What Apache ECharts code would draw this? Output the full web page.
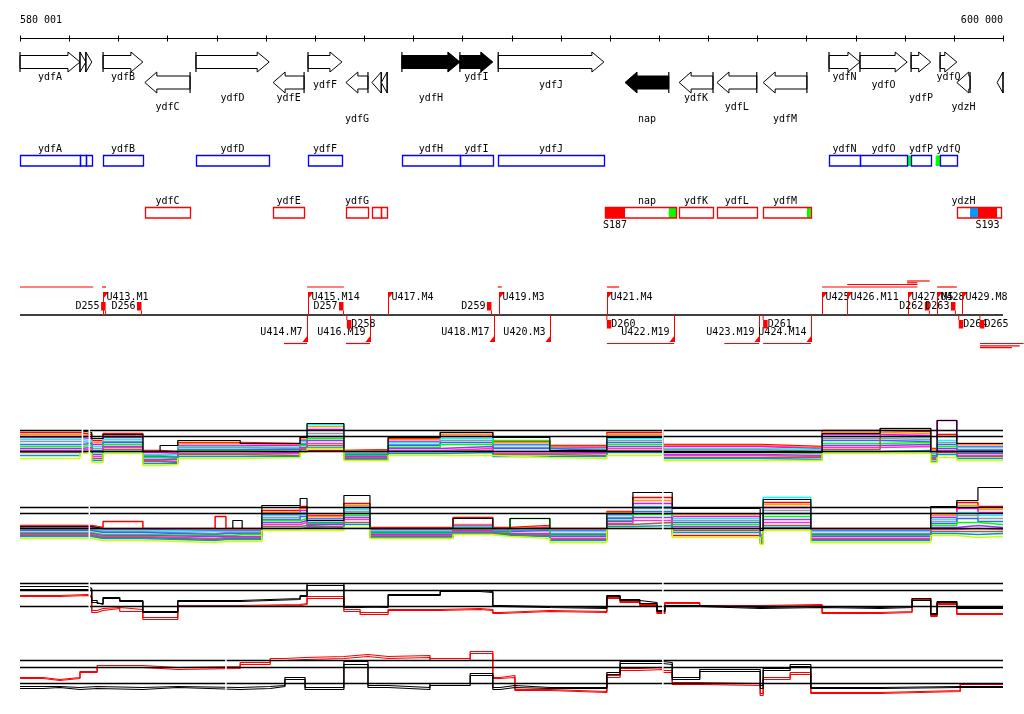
<!DOCTYPE html>
<html><head><meta charset="utf-8">
<script src="https://cdn.jsdelivr.net/npm/echarts@6/dist/echarts.min.js"></script>
<style>html,body{margin:0;padding:0;background:#fff}#c{width:1024px;height:714px}</style>
</head><body><div id="c"></div>
<script>
// ================= DATA (genome coordinates in kb) =================
const axisMinKb = 580, axisMaxKb = 600;
const rulerTicks = [580,581,582,583,584,585,586,587,588,589,590,591,592,593,594,595,596,597,598,599,600];
const rulerLabels = ['580 001', '600 000'];

// genes (arrows)
const geneNames  = ['ydfA','','','ydfB','ydfC','ydfD','ydfE','ydfF','ydfG','','','ydfH','ydfI','ydfJ','nap','ydfK','ydfL','ydfM','ydfN','ydfO','ydfP','ydfQ','ydzH',''];
const geneStart  = [580.00,581.22,581.34,581.69,582.54,583.58,585.15,585.86,586.63,587.16,587.35,587.77,588.95,589.73,592.31,593.41,594.18,595.12,596.46,597.09,598.13,598.72,599.06,599.88];
const geneEnd    = [581.22,581.34,581.46,582.50,583.46,585.07,585.78,586.55,587.08,587.35,587.47,588.95,589.62,591.88,593.20,594.10,594.99,596.01,597.09,598.05,598.53,599.06,599.33,600.00];
const geneStrand = [1,1,1,1,-1,1,-1,1,-1,-1,-1,1,1,1,-1,-1,-1,-1,1,1,1,1,-1,-1];
const geneFilled = [0,0,0,0,0,0,0,0,0,0,0,1,1,0,1,0,0,0,0,0,0,0,0,0];

// transcribed regions (boxes)
const boxStart  = [580.00,581.22,581.34,581.69,583.58,585.86,587.77,588.95,589.73,596.46,597.09,598.13,598.72, 582.54,585.15,586.63,587.16,587.35,591.90,593.41,594.18,595.12,599.06];
const boxEnd    = [581.22,581.34,581.46,582.50,585.07,586.55,588.95,589.62,591.88,597.09,598.05,598.53,599.06, 583.46,585.78,587.08,587.35,587.47,593.35,594.10,594.99,596.09,599.96];
const boxStrand = [1,1,1,1,1,1,1,1,1,1,1,1,1, -1,-1,-1,-1,-1,-1,-1,-1,-1,-1];

// features inside boxes: type 0 = promoter, 1 = terminator, 2 = other
const featStart  = [591.90,593.20,596.01,598.05,598.63,599.33,599.49];
const featEnd    = [592.31,593.35,596.09,598.13,598.72,599.49,599.88];
const featStrand = [-1,-1,-1,1,1,-1,-1];
const featType   = [0,1,1,1,1,2,0];
const featNames  = ['S187','','','','','','S193'];

// transcription units
const uUpNames   = ['U413.M1','U415.M14','U417.M4','U419.M3','U421.M4','U425','U426.M11','U427.M5','U428','U429.M8'];
const uUpPos     = [581.69,585.86,587.49,589.75,591.94,596.32,596.83,598.07,598.66,599.17];
const uDownNames = ['U414.M7','U416.M19','U418.M17','U420.M3','U422.M19','U423.M19','U424.M14'];
const uDownPos   = [585.84,587.12,589.64,590.78,593.31,595.04,596.09];
const dUpNames   = ['D255','D256','D257','D259','D262','D263'];
const dUpPos     = [581.65,582.38,586.49,589.50,598.41,598.94];
const dDownNames = ['D258','D260','D261','D264','D265'];
const dDownPos   = [586.65,591.94,595.12,599.10,599.53];
const tuUpStart  = [580.00,581.67,585.84,589.72,591.94,596.32,596.83,598.05,598.05,598.66];
const tuUpEnd    = [581.49,581.75,586.59,589.80,592.19,598.26,598.26,598.51,598.26,599.06];
const tuUpLevel  = [0,0,0,0,0,0,1,2,3,0];
const tuDownStart= [585.37,586.63,591.94,594.33,595.12,599.53,599.53,599.53];
const tuDownEnd  = [585.84,587.12,593.31,595.04,596.09,600.42,600.34,600.18];
const tuDownLevel= [0,0,0,0,0,0,1,2];

// profile panel 4 (many conditions)
const p4Breaks = [580.00,581.22,581.46,581.69,582.50,582.85,583.21,584.48,585.70,585.84,586.59,587.49,588.55,589.62,590.78,591.94,593.08,595.06,596.32,597.50,598.53,598.66,599.06,600.00];
const p4Lines = [
 [19,17,11,18,1,0,9,8,14,1,2,13,19,10,6,19,7,5,21,20,3,17,8],
 [17,15,9,16,0,-1,8,7,12,25,1,12,17,9,5,17,6,4,19,18,2,15,7],
 [14,13,7,14,-1,-2,6,6,11,22,0,10,15,7,4,15,5,3,17,16,0,31,5],
 [12,11,5,12,-3,-3,5,4,10,27,-1,9,13,6,3,13,3,2,15,14,-1,11,4],
 [10,9,3,10,-4,-5,4,3,8,18,-2,7,11,4,2,11,2,0,13,12,-2,9,2],
 [7,8,1,9,-5,-6,2,2,7,15,-3,6,9,3,1,9,0,-1,11,10,-4,7,1],
 [5,6,-1,7,-6,-7,1,0,6,13,-4,4,7,11,0,7,-1,-2,8,9,-5,5,-1],
 [3,4,-3,5,-8,-8,0,-1,4,11,-5,3,5,0,-1,5,-3,-4,6,7,-6,3,-2],
 [1,3,-5,4,-9,-10,-2,-2,3,8,-6,1,3,-2,-2,3,-4,-5,4,5,-7,1,-4],
 [-1,1,-7,2,-10,-11,-3,-4,2,6,-7,0,1,-3,-4,1,-6,-6,2,23,-8,-1,-5],
 [-4,0,-9,0,-12,-12,-5,-5,0,4,-8,-2,-1,-5,-5,-1,-7,-8,0,1,-10,-3,-7],
 [-7,-2,-11,-2,-14,-13,-7,-6,-1,3,-9,-4,-4,-6,-7,-4,-9,-9,-2,-2,-11,-6,-9]
];
const p4Black = [21,19,13,17,0,6,11,8,14,28,0,14,19,14,1,14,-1,-1,18,23,0,31,8];
const p4Refs = [0,15,21];
const p4Gaps = [581.27,581.41,593.08];

// profile panel 5
const p5Breaks = [580.00,581.46,581.69,582.50,583.97,584.19,584.33,584.52,584.92,585.70,585.84,586.59,587.12,588.81,589.62,589.97,590.78,591.94,592.47,593.27,595.06,595.12,596.09,598.53,599.06,599.49,600.00];
const p5Lines = [
 [3,1,7,0,12,0,0,0,18,22,13,25,1,11,1,3,0,17,31,-7,-5,26,0,15,26,22],
 [2,0,0,-1,-1,-1,-1,-1,16,20,12,23,0,4,0,2,-1,16,28,14,-6,24,-1,13,23,19],
 [1,-1,-1,-2,-2,-2,-2,-2,14,18,10,21,-1,3,-1,1,-2,14,25,12,-7,21,-2,11,20,16],
 [0,-2,-2,-3,-3,-3,-3,-3,13,16,9,19,-2,2,-2,0,-3,13,22,10,-8,31,-3,9,16,13],
 [-1,-3,-3,-5,-4,-4,-4,-4,11,14,8,17,-3,1,-2,-1,-5,11,20,8,-9,18,-5,7,13,10],
 [-2,-4,-4,-6,-5,-5,-5,-5,9,12,6,15,-4,0,-3,-2,-6,10,17,6,-10,15,-6,5,10,7],
 [-4,-6,-6,-7,-7,-7,-6,-6,8,10,5,13,-5,-1,-4,10,-7,8,14,4,-11,12,-7,3,6,4],
 [-5,-7,-7,-8,-8,-8,-8,-8,6,8,4,11,-6,-2,-5,-5,-8,7,11,2,-12,9,-8,1,3,1],
 [-6,-8,-8,-10,-9,-9,-9,-9,4,6,2,9,-7,-3,-6,-6,-10,5,8,0,-13,6,-10,-1,0,-1],
 [-7,-9,-9,-11,-10,-10,-10,-10,2,3,1,6,-8,-4,-6,-7,-11,4,6,-2,-14,3,-11,-3,-3,-3],
 [-8,-10,-10,-12,-11,-11,-11,-11,0,1,0,4,-9,-5,-7,-8,-12,2,3,-4,-15,1,-12,-5,-6,-5],
 [-10,-12,-12,-14,-13,-13,-13,-13,-2,-2,-2,1,-10,-6,-8,-10,-14,0,0,-9,-16,-2,-14,-7,-9,-8]
];
const p5Black = [2,0,0,0,0,0,8,0,23,30,8,33,0,10,0,10,0,15,36,20,-2,29,0,22,28,41];
const p5Refs = [0,15,21];
const p5Gaps = [581.41,593.08];

// profile panel 6 (two black, two red)
const p6Breaks = [580.00,580.81,581.38,581.46,581.57,581.69,582.03,582.50,583.21,584.48,585.70,585.84,586.59,586.92,587.49,588.55,589.36,589.62,589.77,590.78,591.94,592.21,592.61,592.96,593.12,593.83,595.06,596.32,597.50,598.15,598.53,598.66,599.06,600.00];
const p6BlackA = [20,20,18,6,3,9,6,-5,6,8,11,23,0,-1,12,16,15,1,0,-1,11,6,4,-4,1,-1,0,-1,0,8,-7,5,-1];
const p6BlackB = [17,17,16,4,2,8,5,-6,5,7,10,21,-1,0,11,15,14,0,-1,-2,10,7,3,-5,0,-2,-1,-2,-1,6,-8,4,-2];
const p6RedA   = [11,12,10,-4,-2,-1,-3,-11,1,2,3,10,-3,-6,-3,-2,-3,-6,-4,-5,9,5,2,-6,4,1,2,-6,-5,8,-9,3,-7];
const p6RedB   = [10,11,9,-6,-4,-2,-5,-13,0,1,2,8,-5,-8,-4,-3,-4,-7,-5,-6,8,4,1,-7,3,0,1,-7,-6,7,-10,2,-8];
const p6Refs = [0,16,23];
const p6Gaps = [581.41,593.08];

// profile panel 7
const p7Breaks = [580.00,580.47,580.81,581.22,581.57,582.50,583.21,584.48,585.09,585.39,585.80,586.59,587.08,587.49,588.34,589.16,589.62,589.77,590.07,590.78,591.94,592.21,592.61,593.08,593.27,593.83,595.06,595.12,595.67,596.09,597.50,599.13,600.00];
const p7RedA   = [6,4,6,12,18,16,17,21,25,26,27,29,27,28,25,32,6,8,-6,-8,8,15,16,13,1,0,-10,6,11,-9,-7,0];
const p7RedB   = [5,3,5,11,16,14,15,19,23,24,25,27,25,26,23,30,5,6,-7,-9,6,13,14,11,-1,-2,-12,4,9,-10,-8,-1];
const p7BlackA = [-3,-3,-4,-3,-4,-3,-4,-3,-2,6,-4,19,-2,-4,0,8,-4,-2,-4,-4,11,22,22,21,6,14,-2,15,19,-4,-3,-3];
const p7BlackB = [-5,-4,-6,-5,-6,-4,-6,-5,-3,4,-6,22,-4,-6,-2,10,-6,-4,-5,-5,9,20,20,19,4,12,-5,13,17,-5,-4,-4];
const p7Refs = [0,16,23];
const p7Gaps = [584.19,593.08];

// ================= LAYOUT / STYLE =================
const FONT = '10px "DejaVu Sans Mono", "Liberation Mono", monospace';
const LAYOUT = {
  left: 20, right: 21,
  rulerY: 38.5, tickHalf: 3, rulerLabelY: 20.5,
  gene: {fwdTop: 52, fwdBot: 72, revTop: 72, revBot: 93, bodyHalf: 6.5, head: 12,
         labelRows: [77.5, 85.5, 98, 107.5, 119]},
  geneLabelRow: [0,0,0,0,3,2,2,1,4,0,0,2,0,1,4,2,3,4,0,1,2,0,3,0],
  box: {fwdY: 155.5, revY: 207.5, h: 10.5, fwdLabelY: 149.5, revLabelY: 201.5, featLabelY: 225},
  tu: {axisY: 315, upTop: 292, downBot: 342, flagW: 5, flagH: 6.5, upLabelY: 297.5, downLabelY: 332.5,
       dUpY: 302, dDownY: 320, dH: 8.5, dW: 4.5, dUpLabelY: 306, dDownLabelY: 324,
       upLevels: [287, 284.5, 281, 282.8], downLevels: [343.5, 345.8, 347.7]},
  panels: [
    {top: 411.5, height: 60, min: -20, max: 40},
    {top: 483.5, height: 65, min: -20, max: 45},
    {top: 576.5, height: 50, min: -20, max: 30},
    {top: 643.5, height: 60, min: -20, max: 40}
  ]
};
const lineColors = ['#ff0000','#ff9900','#ff00ff','#00ffff','#999999','#3366ff','#00ff00','#9933ff','#ff33cc','#996633','#0099cc','#ccff00'];
const featColors = ['#ff0000','#00ff00','#0099ff'];

// ================= HELPERS =================
function txt(text, x, y, align) {
  return {type: 'text', style: {text: text, x: x, y: y, font: FONT, fill: '#000', align: align || 'center', verticalAlign: 'middle'}};
}
function cx(api, kb) { return api.coord([kb, 0])[0]; }
function hl(x1, x2, y, color, w) { return {type: 'line', shape: {x1: x1, y1: y, x2: x2, y2: y}, style: {stroke: color, lineWidth: w || 1}}; }
function vl(x, y1, y2, color, w) { return {type: 'line', shape: {x1: x, y1: y1, x2: x, y2: y2}, style: {stroke: color, lineWidth: w || 1}}; }
// flat segments: each value holds from breaks[i] to breaks[i+1]
function stepData(breaks, vals) {
  const d = [];
  for (let i = 0; i < vals.length; i++) { d.push([breaks[i], vals[i]]); d.push([breaks[i + 1], vals[i]]); }
  return d;
}
function custom(name, gridIdx, data, renderItem, z) {
  return {type: 'custom', name: name, xAxisIndex: gridIdx, yAxisIndex: gridIdx, data: data,
          renderItem: renderItem, silent: true, animation: false, z: z || 2, clip: false};
}

// ================= RENDERERS =================
function renderRuler(params, api) {
  const y = LAYOUT.rulerY, t = LAYOUT.tickHalf;
  const x0 = cx(api, axisMinKb), x1 = cx(api, axisMaxKb);
  const ch = [hl(x0, x1, y, '#000', 1)];
  rulerTicks.forEach(function (k) { const x = Math.round(cx(api, k)) + 0.5; ch.push(vl(x, y - t, y + t, '#000', 1)); });
  ch.push(txt(rulerLabels[0], x0, LAYOUT.rulerLabelY, 'left'));
  ch.push(txt(rulerLabels[1], x1, LAYOUT.rulerLabelY, 'right'));
  return {type: 'group', children: ch};
}

function renderGene(params, api) {
  const i = params.dataIndex, G = LAYOUT.gene;
  const x0 = cx(api, geneStart[i]), x1 = cx(api, geneEnd[i]);
  const fwd = geneStrand[i] > 0;
  const top = fwd ? G.fwdTop : G.revTop, bot = fwd ? G.fwdBot : G.revBot;
  const mid = (top + bot) / 2, hb = G.bodyHalf;
  const head = Math.min(G.head, x1 - x0);
  let pts;
  if (fwd) {
    const hx = x1 - head;
    pts = [[x0, mid - hb], [hx, mid - hb], [hx, top], [x1, mid], [hx, bot], [hx, mid + hb], [x0, mid + hb]];
  } else {
    const hx = x0 + head;
    pts = [[x1, mid - hb], [hx, mid - hb], [hx, top], [x0, mid], [hx, bot], [hx, mid + hb], [x1, mid + hb]];
  }
  const barX = fwd ? x0 : x1;
  const ch = [
    {type: 'polygon', shape: {points: pts}, style: {fill: geneFilled[i] ? '#000' : '#fff', stroke: '#000', lineWidth: 1}},
    vl(barX, top, bot, '#000', 1.2)
  ];
  const name = geneNames[i];
  if (name) {
    const c = (x0 + x1) / 2;
    ch.push(txt(name, c, G.labelRows[LAYOUT.geneLabelRow[i]]));
    ch.push(txt(name, c, fwd ? LAYOUT.box.fwdLabelY : LAYOUT.box.revLabelY));
  }
  return {type: 'group', children: ch};
}

function renderFeat(params, api) {
  const i = params.dataIndex, B = LAYOUT.box;
  const x0 = cx(api, featStart[i]), x1 = cx(api, featEnd[i]);
  const y = featStrand[i] > 0 ? B.fwdY : B.revY;
  const ch = [{type: 'rect', shape: {x: x0, y: y, width: x1 - x0, height: B.h}, style: {fill: featColors[featType[i]]}}];
  if (featNames[i]) ch.push(txt(featNames[i], (x0 + x1) / 2, B.featLabelY));
  return {type: 'group', children: ch};
}

function renderBox(params, api) {
  const i = params.dataIndex, B = LAYOUT.box;
  const x0 = Math.round(cx(api, boxStart[i])) + 0.5, x1 = Math.round(cx(api, boxEnd[i])) + 0.5;
  const fwd = boxStrand[i] > 0;
  return {type: 'rect', shape: {x: x0, y: fwd ? B.fwdY : B.revY, width: x1 - x0, height: B.h},
          style: {fill: 'none', stroke: fwd ? '#0000ff' : '#ff0000', lineWidth: 1.3}};
}

function renderTuAxis(params, api) {
  return hl(cx(api, axisMinKb), cx(api, axisMaxKb), LAYOUT.tu.axisY, '#000', 1.3);
}
function renderUUp(params, api) {
  const i = params.dataIndex, T = LAYOUT.tu;
  const x = Math.round(cx(api, uUpPos[i])) + 0.5;
  return {type: 'group', children: [
    vl(x, T.axisY, T.upTop, '#ff0000', 1),
    {type: 'polygon', shape: {points: [[x, T.upTop], [x + T.flagW, T.upTop], [x, T.upTop + T.flagH]]}, style: {fill: '#ff0000'}},
    txt(uUpNames[i], x + 3, T.upLabelY, 'left')
  ]};
}
function renderUDown(params, api) {
  const i = params.dataIndex, T = LAYOUT.tu;
  const x = Math.round(cx(api, uDownPos[i])) + 0.5;
  return {type: 'group', children: [
    vl(x, T.axisY, T.downBot, '#ff0000', 1),
    {type: 'polygon', shape: {points: [[x, T.downBot], [x - T.flagW, T.downBot], [x, T.downBot - T.flagH]]}, style: {fill: '#ff0000'}},
    txt(uDownNames[i], x - 5, T.downLabelY, 'right')
  ]};
}
function renderDUp(params, api) {
  const i = params.dataIndex, T = LAYOUT.tu;
  const x = cx(api, dUpPos[i]);
  return {type: 'group', children: [
    txt(dUpNames[i], x - 1.5, T.dUpLabelY, 'right'),
    {type: 'rect', shape: {x: x, y: T.dUpY, width: T.dW, height: T.dH}, style: {fill: '#ff0000'}},
    vl(x + T.dW, T.dUpY + T.dH, T.axisY, '#ff0000', 1)
  ]};
}
function renderDDown(params, api) {
  const i = params.dataIndex, T = LAYOUT.tu;
  const x = cx(api, dDownPos[i]);
  return {type: 'group', children: [
    txt(dDownNames[i], x + T.dW, T.dDownLabelY, 'left'),
    vl(x, T.axisY, T.dDownY, '#ff0000', 1),
    {type: 'rect', shape: {x: x, y: T.dDownY, width: T.dW, height: T.dH}, style: {fill: '#ff0000'}}
  ]};
}
function renderTuUp(params, api) {
  const i = params.dataIndex;
  return hl(cx(api, tuUpStart[i]), cx(api, tuUpEnd[i]), LAYOUT.tu.upLevels[tuUpLevel[i]], '#ff0000', 1.2);
}
function renderTuDown(params, api) {
  const i = params.dataIndex;
  return hl(cx(api, tuDownStart[i]), cx(api, tuDownEnd[i]), LAYOUT.tu.downLevels[tuDownLevel[i]], '#ff0000', 1.2);
}
function refRenderer(params, api) {
  const v = api.value(1);
  const a = api.coord([axisMinKb, v]), b = api.coord([axisMaxKb, v]);
  const y = Math.round(a[1] - 0.5) + 0.5;
  return hl(a[0], b[0], y, '#000', 1.3);
}
function gapRenderer(p) {
  return function (params, api) {
    const k = api.value(0);
    const a = api.coord([k, p.max]), b = api.coord([k, p.min]);
    return {type: 'rect', shape: {x: a[0] - 0.75, y: a[1], width: 1.5, height: b[1] - a[1]}, style: {fill: '#fff'}};
  };
}

// ================= OPTION =================
const grids = [{left: LAYOUT.left, right: LAYOUT.right, top: 0, height: 360, outerBoundsMode: 'none'}]
  .concat(LAYOUT.panels.map(function (p) { return {left: LAYOUT.left, right: LAYOUT.right, top: p.top, height: p.height, outerBoundsMode: 'none'}; }));
const xAxes = grids.map(function (g, i) { return {type: 'value', gridIndex: i, min: axisMinKb, max: axisMaxKb, show: false}; });
const yAxes = [{type: 'value', gridIndex: 0, min: 0, max: 360, inverse: true, show: false}]
  .concat(LAYOUT.panels.map(function (p, i) { return {type: 'value', gridIndex: i + 1, min: p.min, max: p.max, show: false}; }));

const series = [];
series.push(custom('ruler', 0, [[axisMinKb, 0]], renderRuler));
series.push(custom('genes', 0, geneStart.map(function (s, i) { return [s, 0]; }), renderGene));
series.push(custom('features', 0, featStart.map(function (s) { return [s, 0]; }), renderFeat, 2));
series.push(custom('boxes', 0, boxStart.map(function (s) { return [s, 0]; }), renderBox, 3));
series.push(custom('tuUp', 0, tuUpStart.map(function (s) { return [s, 0]; }), renderTuUp));
series.push(custom('tuDown', 0, tuDownStart.map(function (s) { return [s, 0]; }), renderTuDown));
series.push(custom('tuAxis', 0, [[axisMinKb, 0]], renderTuAxis, 3));
series.push(custom('uUp', 0, uUpPos.map(function (s) { return [s, 0]; }), renderUUp, 4));
series.push(custom('uDown', 0, uDownPos.map(function (s) { return [s, 0]; }), renderUDown, 4));
series.push(custom('dUp', 0, dUpPos.map(function (s) { return [s, 0]; }), renderDUp, 4));
series.push(custom('dDown', 0, dDownPos.map(function (s) { return [s, 0]; }), renderDDown, 4));

function lineSeries(gridIdx, breaks, vals, color, z, w) {
  return {type: 'line', xAxisIndex: gridIdx, yAxisIndex: gridIdx, data: stepData(breaks, vals),
          symbol: 'none', silent: true, animation: false, z: z, lineStyle: {color: color, width: w || 1}};
}
p4Lines.forEach(function (v, k) { series.push(lineSeries(1, p4Breaks, v, lineColors[k], 2, 1.5)); });
series.push(lineSeries(1, p4Breaks, p4Black, '#000', 3, 1.2));
p5Lines.forEach(function (v, k) { series.push(lineSeries(2, p5Breaks, v, lineColors[k], 2, 1.5)); });
series.push(lineSeries(2, p5Breaks, p5Black, '#000', 3, 1.2));
series.push(lineSeries(3, p6Breaks, p6RedA, '#ff0000', 2, 1.2));
series.push(lineSeries(3, p6Breaks, p6RedB, '#ff0000', 2, 1.2));
series.push(lineSeries(3, p6Breaks, p6BlackA, '#000', 3, 1.2));
series.push(lineSeries(3, p6Breaks, p6BlackB, '#000', 3, 1.2));
series.push(lineSeries(4, p7Breaks, p7RedA, '#ff0000', 2, 1.2));
series.push(lineSeries(4, p7Breaks, p7RedB, '#ff0000', 2, 1.2));
series.push(lineSeries(4, p7Breaks, p7BlackA, '#000', 3, 1.2));
series.push(lineSeries(4, p7Breaks, p7BlackB, '#000', 3, 1.2));

[[p4Refs, p4Gaps], [p5Refs, p5Gaps], [p6Refs, p6Gaps], [p7Refs, p7Gaps]].forEach(function (rg, i) {
  series.push(custom('refs' + i, i + 1, rg[0].map(function (v) { return [axisMinKb, v]; }), refRenderer, 5));
  series.push(custom('gaps' + i, i + 1, rg[1].map(function (k) { return [k, 0]; }), gapRenderer(LAYOUT.panels[i]), 6));
});

const chart = echarts.init(document.getElementById('c'), null, {renderer: 'canvas'});
chart.setOption({animation: false, backgroundColor: '#fff', grid: grids, xAxis: xAxes, yAxis: yAxes, series: series});
</script>
</body></html>
